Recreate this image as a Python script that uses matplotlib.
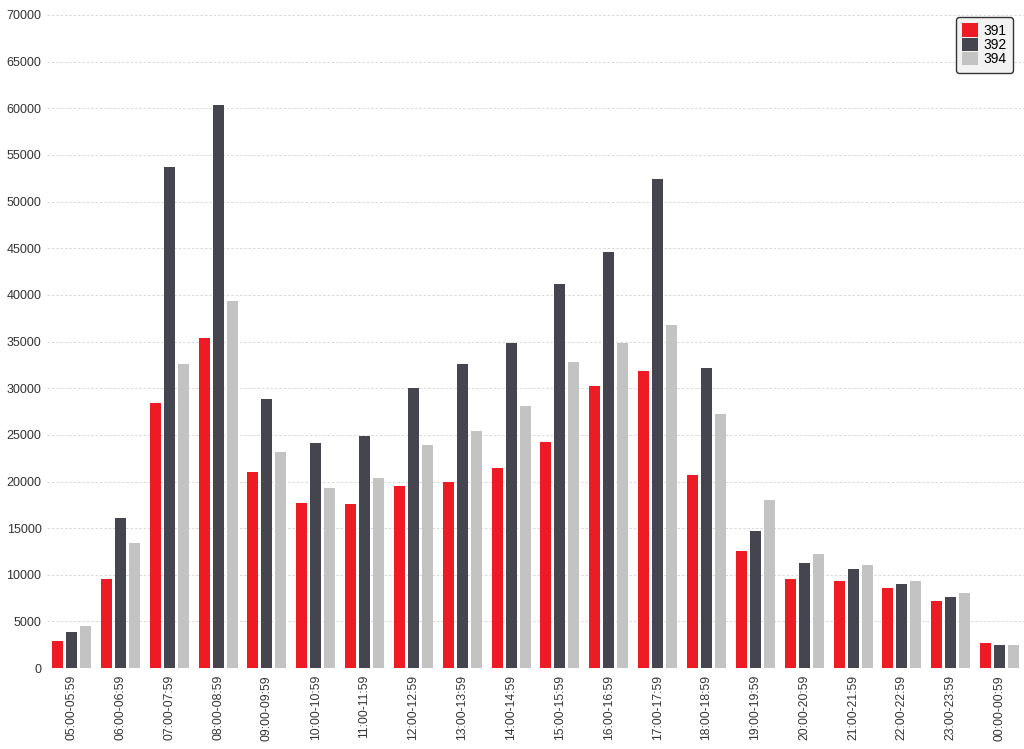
import numpy as np
import matplotlib
matplotlib.use('Agg')
from matplotlib import pyplot as plt

hours = ['05:00-05:59', '06:00-06:59', '07:00-07:59', '08:00-08:59', '09:00-09:59',
         '10:00-10:59', '11:00-11:59', '12:00-12:59', '13:00-13:59', '14:00-14:59',
         '15:00-15:59', '16:00-16:59', '17:00-17:59', '18:00-18:59', '19:00-19:59',
         '20:00-20:59', '21:00-21:59', '22:00-22:59', '23:00-23:59', '00:00-00:59']

line_391 = [2900, 9500, 28400, 35400, 21000, 17700, 17600, 19500, 20000, 21400,
            24200, 30200, 31800, 20700, 12600, 9500, 9300, 8600, 7200, 2700]
line_392 = [3900, 16100, 53700, 60300, 28800, 24100, 24900, 30000, 32600, 34800,
            41200, 44600, 52400, 32200, 14700, 11300, 10600, 9000, 7600, 2500]
line_394 = [4500, 13400, 32600, 39300, 23200, 19300, 20400, 23900, 25400, 28100,
            32800, 34800, 36800, 27200, 18000, 12200, 11000, 9300, 8000, 2500]

series = [('391', line_391, '#ed1c24'),
          ('392', line_392, '#45454f'),
          ('394', line_394, '#c3c3c3')]

plt.rcParams['font.family'] = ['Liberation Sans', 'DejaVu Sans']

fig = plt.figure(figsize=(10.24, 7.49), dpi=100)
ax = fig.add_axes([0.046, 0.108, 0.954, 0.872])

x = np.arange(len(hours))
step = 0.287
width = 0.225
for i, (name, vals, col) in enumerate(series):
    ax.bar(x + (i - 1) * step, vals, width, color=col, label=name, zorder=3)

ax.set_xlim(-0.5, len(hours) - 0.5)
ax.set_ylim(0, 70000)
ax.set_yticks(np.arange(0, 70001, 5000))
ax.set_xticks(x)
ax.set_xticklabels(hours, rotation=90, fontsize=8.7, color='#333333')
ax.tick_params(axis='y', labelsize=9, colors='#333333', length=0, pad=4)
ax.tick_params(axis='x', length=0, pad=5)
ax.grid(axis='y', color='#d8d8d8', linestyle=(0, (2.5, 2)), linewidth=0.7, zorder=0)
for s in ax.spines.values():
    s.set_visible(False)

leg = ax.legend(loc='upper right', fontsize=10, handlelength=1.1, handleheight=1.1,
                handletextpad=0.45, labelspacing=0.0, borderpad=0.45, borderaxespad=0,
                bbox_to_anchor=(0.989, 0.997), frameon=True, fancybox=True)
leg.get_frame().set_edgecolor('#333333')
leg.get_frame().set_linewidth(1.0)
leg.get_frame().set_facecolor('#f2f2f2')
leg.get_frame().set_alpha(1)

plt.savefig('out.png', dpi=100)
